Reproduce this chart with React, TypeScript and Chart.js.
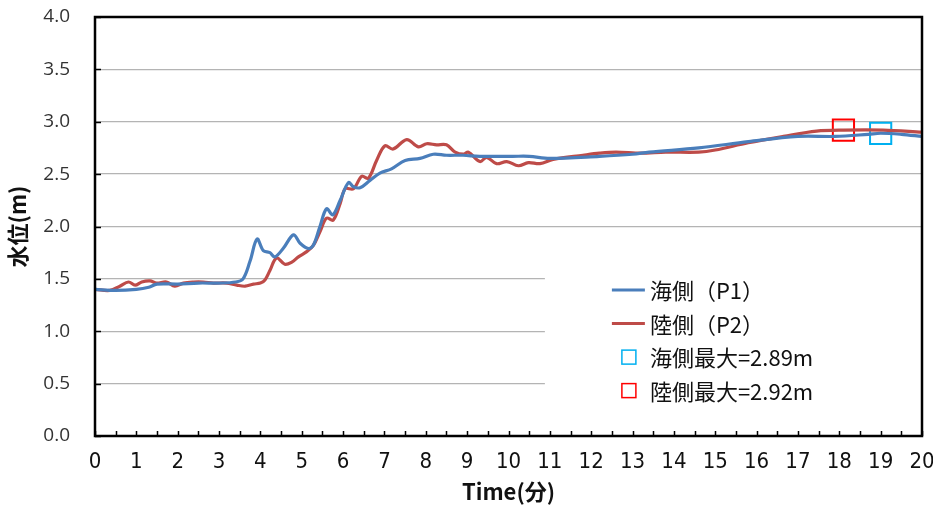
import React, { useEffect, useRef } from "react";
import { Chart, registerables } from "chart.js";

Chart.register(...registerables);

// 海側 (P1) water level, minutes / metres
const seaTime = [
  0, 0.5, 1.0, 1.3, 1.5, 2.0, 2.5, 3.0, 3.4, 3.58, 3.75, 3.92, 4.07, 4.23, 4.35,
  4.55, 4.8, 4.96, 5.16, 5.28, 5.44, 5.6, 5.75, 5.93, 6.13, 6.25, 6.41, 6.65,
  6.89, 7.17, 7.5, 7.86, 8.18, 8.5, 8.9, 9.3, 10.1, 10.5, 11.0, 12.2, 13.0, 13.4,
  14.6, 15.8, 17.0, 17.9, 18.7, 19.0, 19.5, 20.0,
];
const seaLevel = [
  1.4, 1.39, 1.4, 1.42, 1.45, 1.45, 1.46, 1.46, 1.47, 1.5, 1.67, 1.88, 1.77, 1.75,
  1.71, 1.79, 1.92, 1.84, 1.79, 1.82, 2.0, 2.17, 2.11, 2.25, 2.42, 2.38, 2.37,
  2.44, 2.51, 2.55, 2.63, 2.65, 2.69, 2.68, 2.68, 2.67, 2.67, 2.67, 2.65, 2.67,
  2.69, 2.71, 2.75, 2.81, 2.86, 2.86, 2.88, 2.89, 2.88, 2.86,
];

// 陸側 (P2) water level, minutes / metres
const landTime = [
  0, 0.36, 0.6, 0.81, 0.97, 1.13, 1.33, 1.49, 1.73, 1.93, 2.14, 2.38, 2.62, 2.86,
  3.18, 3.43, 3.63, 3.83, 4.0, 4.11, 4.23, 4.39, 4.59, 4.76, 4.92, 5.12, 5.28,
  5.44, 5.6, 5.76, 5.93, 6.05, 6.25, 6.45, 6.61, 6.81, 7.01, 7.21, 7.54, 7.82,
  8.02, 8.26, 8.5, 8.71, 8.91, 9.03, 9.31, 9.47, 9.71, 9.96, 10.24, 10.48, 10.76,
  11.08, 11.8, 12.2, 12.6, 13.2, 13.8, 14.6, 15.0, 15.8, 16.65, 17.45, 18.1,
  19.06, 20.0,
];
const landLevel = [
  1.4, 1.39, 1.43, 1.47, 1.44, 1.47, 1.48, 1.46, 1.47, 1.43, 1.46, 1.47, 1.47,
  1.46, 1.46, 1.44, 1.43, 1.45, 1.46, 1.49, 1.58, 1.7, 1.64, 1.66, 1.71, 1.76,
  1.82, 1.95, 2.08, 2.06, 2.22, 2.36, 2.36, 2.48, 2.46, 2.63, 2.77, 2.74, 2.83,
  2.76, 2.79, 2.78, 2.78, 2.71, 2.69, 2.71, 2.62, 2.66, 2.6, 2.62, 2.58, 2.61,
  2.6, 2.64, 2.68, 2.7, 2.71, 2.7, 2.71, 2.71, 2.73, 2.8, 2.86, 2.91, 2.92, 2.92,
  2.9,
];

// Peak markers
const seaMaxTime = [19.0];
const seaMaxLevel = [2.89];
const landMaxTime = [18.1];
const landMaxLevel = [2.92];

const seaLabel = "海側（P1）";
const landLabel = "陸側（P2）";
const seaMaxLabel = `海側最大=${seaMaxLevel[0].toFixed(2)}m`;
const landMaxLabel = `陸側最大=${landMaxLevel[0].toFixed(2)}m`;

const SEA_COLOR = "#4A7EBB";
const LAND_COLOR = "#BE4B48";
const SEA_MAX_COLOR = "#00B0F0";
const LAND_MAX_COLOR = "#FF0000";

const CJK = '"Noto Sans CJK JP", "Noto Sans", sans-serif';
const NARROW = '"Liberation Sans Narrow", "DejaVu Sans Condensed", "Noto Sans", sans-serif';

const toPoints = (xs: number[], ys: number[]) => xs.map((x, i) => ({ x, y: ys[i] }));

// Keep the plot edges where the layout padding puts them
const noScalePadding = (s: any) => {
  s.paddingLeft = 0;
  s.paddingRight = 0;
  s.paddingTop = 0;
  s.paddingBottom = 0;
};

// Legend box sitting in the lower right of the plot, on top of the grid
const boxLegend = {
  id: "boxLegend",
  beforeDatasetsDraw(chart: any) {
    const { ctx, chartArea: a } = chart;
    const w = a.right - a.left;
    const h = a.bottom - a.top;
    const left = a.left + w * 0.544;
    const top = a.top + h * 0.585;
    const bottom = a.top + h * 0.95;
    ctx.save();
    ctx.fillStyle = "#ffffff";
    ctx.fillRect(left, top, a.right - left - 1, bottom - top);

    const rows = chart.data.datasets.map((d: any) => ({
      label: d.label,
      color: d.borderColor,
      line: d.showLine !== false,
    }));
    ctx.font = `22px ${CJK}`;
    ctx.textBaseline = "middle";
    ctx.textAlign = "left";
    rows.forEach((r: any, i: number) => {
      const y = top + 28 + i * 33.5;
      if (r.line) {
        ctx.strokeStyle = r.color;
        ctx.lineWidth = 3;
        ctx.beginPath();
        ctx.moveTo(left + 67, y);
        ctx.lineTo(left + 100, y);
        ctx.stroke();
      } else {
        ctx.strokeStyle = r.color;
        ctx.lineWidth = 1.5;
        ctx.strokeRect(left + 77, y - 7, 14, 14);
      }
      ctx.fillStyle = "#111111";
      ctx.fillText(r.label, left + 105, y + 1);
    });
    ctx.restore();
  },
};

// Frame round the plot plus short inward tick marks
const plotFrame = {
  id: "plotFrame",
  afterDraw(chart: any) {
    const { ctx, chartArea: a, scales } = chart;
    ctx.save();
    ctx.strokeStyle = "#000000";
    ctx.lineWidth = 1.5;
    ctx.beginPath();
    for (let v = 0; v <= 4.0001; v += 0.5) {
      const y = Math.round(scales.y.getPixelForValue(v)) + 0.5;
      ctx.moveTo(a.left, y);
      ctx.lineTo(a.left + 6, y);
    }
    for (let t = 0; t <= 20.0001; t += 0.5) {
      const x = Math.round(scales.x.getPixelForValue(t)) + 0.5;
      ctx.moveTo(x, a.bottom);
      ctx.lineTo(x, a.bottom - 5);
    }
    ctx.stroke();
    ctx.lineWidth = 2.5;
    ctx.strokeRect(a.left, a.top, a.right - a.left, a.bottom - a.top);
    ctx.restore();
  },
};

export default function App() {
  const canvasRef = useRef<HTMLCanvasElement | null>(null);

  useEffect(() => {
    document.body.style.margin = "0";
    const canvas = canvasRef.current;
    if (!canvas) return;
    const chart = new Chart(canvas, {
      type: "line",
      data: {
        datasets: [
          {
            label: seaLabel,
            data: toPoints(seaTime, seaLevel),
            borderColor: SEA_COLOR,
            backgroundColor: SEA_COLOR,
            borderWidth: 3.2,
            pointRadius: 0,
            tension: 0.35,
          },
          {
            label: landLabel,
            data: toPoints(landTime, landLevel),
            borderColor: LAND_COLOR,
            backgroundColor: LAND_COLOR,
            borderWidth: 3.2,
            pointRadius: 0,
            tension: 0.35,
          },
          {
            label: seaMaxLabel,
            data: toPoints(seaMaxTime, seaMaxLevel),
            showLine: false,
            borderColor: SEA_MAX_COLOR,
            backgroundColor: "rgba(0,0,0,0)",
            borderWidth: 2,
            pointStyle: "rect",
            pointRadius: 15,
          },
          {
            label: landMaxLabel,
            data: toPoints(landMaxTime, landMaxLevel),
            showLine: false,
            borderColor: LAND_MAX_COLOR,
            backgroundColor: "rgba(0,0,0,0)",
            borderWidth: 2,
            pointStyle: "rect",
            pointRadius: 15,
          },
        ],
      },
      options: {
        responsive: false,
        animation: false,
        layout: { autoPadding: false, padding: { top: 17, right: 11, left: 0, bottom: 0 } },
        plugins: {
          legend: { display: false },
          tooltip: { enabled: false },
          title: { display: false },
        },
        scales: {
          x: {
            type: "linear",
            min: 0,
            max: 20,
            afterFit: (s: any) => {
              s.height = 72;
              noScalePadding(s);
            },
            grid: { display: false, drawTicks: false },
            border: { display: false },
            ticks: {
              stepSize: 1,
              padding: 13,
              color: "#111111",
              font: { family: NARROW, size: 22 },
              maxRotation: 0,
              autoSkip: false,
            },
            title: {
              display: true,
              text: "Time(分)",
              color: "#111111",
              font: { family: CJK, size: 22, weight: "bold" },
              padding: { top: 0, bottom: 3 },
            },
          },
          y: {
            type: "linear",
            min: 0,
            max: 4,
            afterFit: (s: any) => {
              s.width = 95;
              noScalePadding(s);
            },
            grid: { color: "#b4b4b4", lineWidth: 1.3, drawTicks: false },
            border: { display: false },
            ticks: {
              stepSize: 0.5,
              padding: 25,
              color: "#333333",
              font: { family: '"Open Sans", "Noto Sans", sans-serif', size: 19 },
              callback: (v: any) => Number(v).toFixed(1),
            },
            title: {
              display: true,
              text: "水位(m)",
              color: "#111111",
              font: { family: CJK, size: 22, weight: "bold" },
              padding: { top: 4, bottom: 4 },
            },
          },
        },
      },
      plugins: [boxLegend, plotFrame],
    } as any);
    return () => chart.destroy();
  }, []);

  return (
    <div style={{ position: "absolute", left: 0, top: 0, width: 933, height: 508, background: "#ffffff" }}>
      <canvas ref={canvasRef} width={933} height={508} />
    </div>
  );
}
